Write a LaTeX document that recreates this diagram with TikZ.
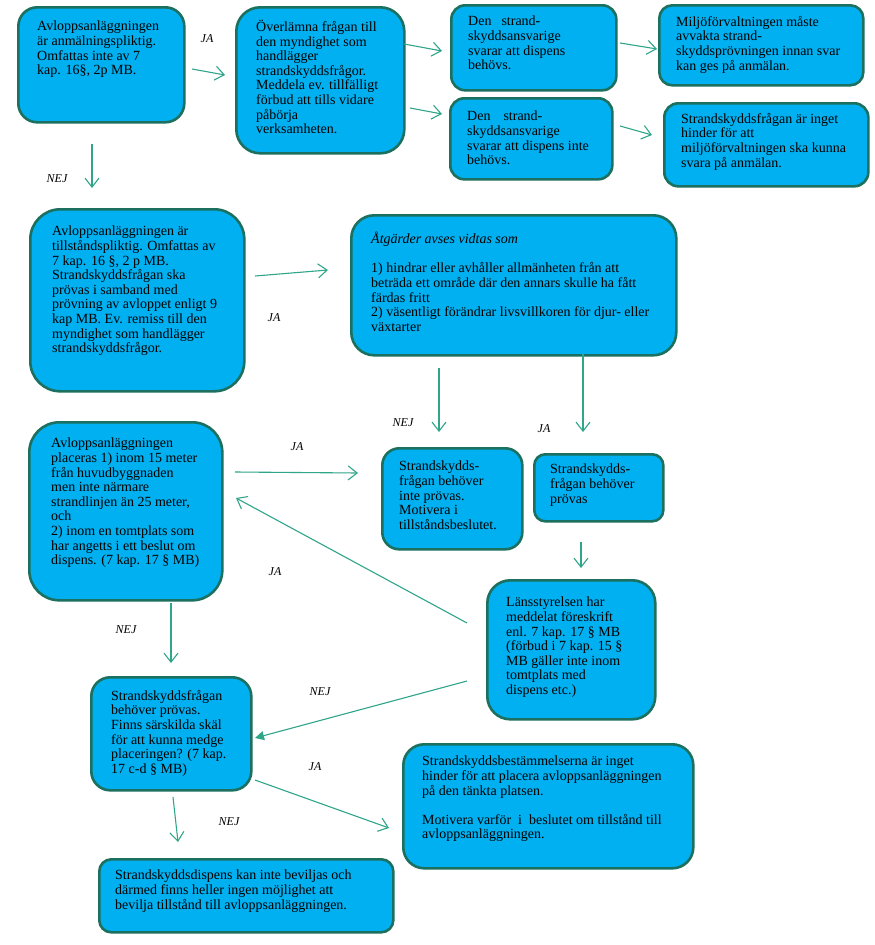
\documentclass[tikz,border=0pt]{standalone}
\usepackage{fontspec}
\setmainfont{Liberation Serif}
\usetikzlibrary{arrows.meta}
\definecolor{boxfill}{HTML}{00B0F0}
\definecolor{boxline}{HTML}{1B705F}
\definecolor{arrowc}{HTML}{2FA58A}
\begin{document}
\begin{tikzpicture}[x=1pt,y=-1pt,
  box/.style={draw=boxline, line width=2.6pt, fill=boxfill, anchor=north west, inner sep=0pt},
  txt/.style={anchor=north west, inner sep=0pt, align=left, font=\fontsize{14}{14.6}\selectfont},
  lbl/.style={font=\fontsize{12}{13}\selectfont\itshape, inner sep=0pt},
  arr/.style={draw=arrowc, line width=1.1pt, -{Straight Barb[length=9pt,width=14pt]}},
  farr/.style={draw=arrowc, line width=1.1pt, -{Triangle[length=9pt,width=9pt]}}
]
\useasboundingbox (0,0) rectangle (875,945);
\fill[white] (0,0) rectangle (875,945);

% boxes
\node[box, minimum width=166pt, minimum height=115pt, rounded corners=19pt] (b1) at (17,6) {};
\node[box, minimum width=168pt, minimum height=146pt, rounded corners=24pt] (b2) at (235,6) {};
\node[box, minimum width=165pt, minimum height=85pt, rounded corners=14pt] (b3) at (450,4) {};
\node[box, minimum width=204pt, minimum height=80pt, rounded corners=13pt] (b4) at (658,4) {};
\node[box, minimum width=162pt, minimum height=81pt, rounded corners=14pt] (b5) at (449,97) {};
\node[box, minimum width=204pt, minimum height=83pt, rounded corners=14pt] (b6) at (663,102) {};
\node[box, minimum width=214pt, minimum height=182pt, rounded corners=30pt] (b7) at (29,208) {};
\node[box, minimum width=325pt, minimum height=140pt, rounded corners=23pt] (b8) at (350,214) {};
\node[box, minimum width=193pt, minimum height=178pt, rounded corners=30pt] (b9) at (28,421) {};
\node[box, minimum width=140pt, minimum height=101pt, rounded corners=17pt] (b10) at (381,447) {};
\node[box, minimum width=129pt, minimum height=67pt, rounded corners=11pt] (b11) at (533,453) {};
\node[box, minimum width=168pt, minimum height=139pt, rounded corners=23pt] (b12) at (486,579) {};
\node[box, minimum width=160pt, minimum height=113pt, rounded corners=19pt] (b13) at (90,676) {};
\node[box, minimum width=290pt, minimum height=124pt, rounded corners=21pt] (b14) at (402,743) {};
\node[box, minimum width=294pt, minimum height=73pt, rounded corners=12pt] (b15) at (98,858) {};

% texts
\node[txt] (t1) at (37,21) {Avloppsanläggningen\\är anmälningspliktig.\\Omfattas inte av 7\\kap. 16§, 2p MB.};
\node[txt] (t2) at (256,20) {Överlämna frågan till\\den myndighet som\\handlägger\\strandskyddsfrågor.\\Meddela ev. tillfälligt\\förbud att tills vidare\\påbörja\\verksamheten.};
\node[txt] (t3) at (468,16) {Den\hspace{10pt}strand-\\skyddsansvarige\\svarar att dispens\\behövs.};
\node[txt] (t4) at (676,16) {Miljöförvaltningen måste\\avvakta strand-\\skyddsprövningen innan svar\\kan ges på anmälan.};
\node[txt] (t5) at (467,111) {Den\hspace{13pt}strand-\\skyddsansvarige\\svarar att dispens inte\\behövs.};
\node[txt] (t6) at (681,113) {Strandskyddsfrågan är inget\\hinder för att\\miljöförvaltningen ska kunna\\svara på anmälan.};
\node[txt] (t7) at (52,226) {Avloppsanläggningen är\\tillståndspliktig. Omfattas av\\7 kap. 16 §, 2 p MB.\\Strandskyddsfrågan ska\\prövas i samband med\\prövning av avloppet enligt 9\\kap MB. Ev. remiss till den\\myndighet som handlägger\\strandskyddsfrågor.};
\node[txt] (t8) at (371,232) {\textit{Åtgärder avses vidtas som}\\[14.6pt]1) hindrar eller avhåller allmänheten från att\\beträda ett område där den annars skulle ha fått\\färdas fritt\\2) väsentligt förändrar livsvillkoren för djur- eller\\växtarter};
\node[txt] (t9) at (51,438) {Avloppsanläggningen\\placeras 1) inom 15 meter\\från huvudbyggnaden\\men inte närmare\\strandlinjen än 25 meter,\\och\\2) inom en tomtplats som\\har angetts i ett beslut om\\dispens. (7 kap. 17 § MB)};
\node[txt] (t10) at (399,461) {Strandskydds-\\frågan behöver\\inte prövas.\\Motivera i\\tillståndsbeslutet.};
\node[txt] (t11) at (550,464) {Strandskydds-\\frågan behöver\\prövas};
\node[txt] (t12) at (506,597) {Länsstyrelsen har\\meddelat föreskrift\\enl. 7 kap. 17 § MB\\(förbud i 7 kap. 15 §\\MB gäller inte inom\\tomtplats med\\dispens etc.)};
\node[txt] (t13) at (111,690) {Strandskyddsfrågan\\behöver prövas.\\Finns särskilda skäl\\för att kunna medge\\placeringen? (7 kap.\\17 c-d § MB)};
\node[txt] (t14) at (422,756) {Strandskyddsbestämmelserna är inget\\hinder för att placera avloppsanläggningen\\på den tänkta platsen.\\[14.6pt]Motivera varför\ \ i\ \ beslutet om tillstånd till\\avloppsanläggningen.};
\node[txt] (t15) at (115,870) {Strandskyddsdispens kan inte beviljas och\\därmed finns heller ingen möjlighet att\\bevilja tillstånd till avloppsanläggningen.};

% connector end points
\coordinate (c1s) at (192,69);  \coordinate (c1e) at (225,75);
\coordinate (c2s) at (404,44);  \coordinate (c2e) at (442,51);
\coordinate (c3s) at (410,108); \coordinate (c3e) at (442,114);
\coordinate (c4s) at (620,43);  \coordinate (c4e) at (657,49);
\coordinate (c5s) at (620,126); \coordinate (c5e) at (652,135);
\coordinate (c6s) at (92,144);  \coordinate (c6e) at (92,188);
\coordinate (c7s) at (255,276); \coordinate (c7e) at (328,270);
\coordinate (c8s) at (439,368); \coordinate (c8e) at (439,432);
\coordinate (c9s) at (583,354); \coordinate (c9e) at (583,432);
\coordinate (c10s) at (235,472); \coordinate (c10e) at (358,473);
\coordinate (c11s) at (467,623); \coordinate (c11e) at (236,498);
\coordinate (c12s) at (171,603); \coordinate (c12e) at (171,663);
\coordinate (c13s) at (581,542); \coordinate (c13e) at (581,568);
\coordinate (c14s) at (467,681); \coordinate (c14e) at (255,738);
\coordinate (c15s) at (255,780); \coordinate (c15e) at (389,828);
\coordinate (c16s) at (173,797); \coordinate (c16e) at (178,842);

\draw[arr] (c1s) -- (c1e);
\draw[arr] (c2s) -- (c2e);
\draw[arr] (c3s) -- (c3e);
\draw[arr] (c4s) -- (c4e);
\draw[arr] (c5s) -- (c5e);
\draw[arr] (c6s) -- (c6e);
\draw[arr] (c7s) -- (c7e);
\draw[arr] (c8s) -- (c8e);
\draw[arr] (c9s) -- (c9e);
\draw[arr] (c10s) -- (c10e);
\draw[arr] (c11s) -- (c11e);
\draw[arr] (c12s) -- (c12e);
\draw[arr] (c13s) -- (c13e);
\draw[farr] (c14s) -- (c14e);
\draw[arr] (c15s) -- (c15e);
\draw[arr] (c16s) -- (c16e);

% labels
\node[lbl] (l1) at (207,39) {JA};
\node[lbl] (l6) at (57,179) {NEJ};
\node[lbl] (l7) at (274,318) {JA};
\node[lbl] (l8) at (403,423) {NEJ};
\node[lbl] (l9) at (544,429) {JA};
\node[lbl] (l10) at (297,447) {JA};
\node[lbl] (l11) at (275,572) {JA};
\node[lbl] (l12) at (126,630) {NEJ};
\node[lbl] (l14) at (320,692) {NEJ};
\node[lbl] (l15) at (315,767) {JA};
\node[lbl] (l16) at (229,822) {NEJ};
\end{tikzpicture}
\end{document}
